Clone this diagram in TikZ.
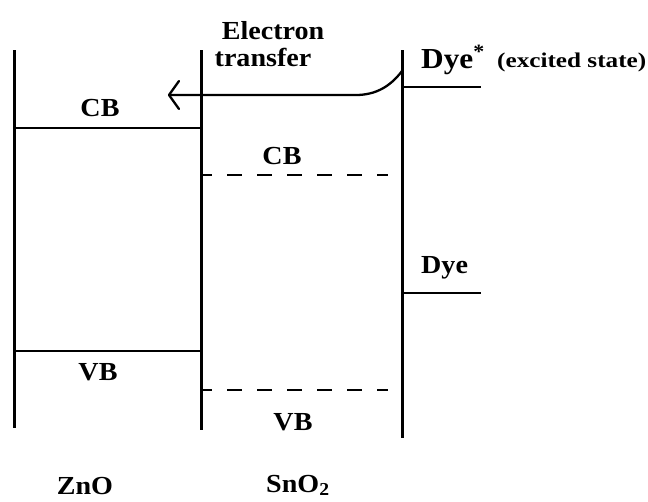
\documentclass[tikz,border=0pt]{standalone}
\usepackage{fontspec}
\setmainfont{Liberation Serif}[FakeStretch=1.08]
\newfontfamily\widefont{Liberation Serif}[FakeStretch=1.2]
\begin{document}
\begin{tikzpicture}[x=1pt,y=-1pt,
  wall/.style={line width=3pt},
  lev/.style={line width=2.3pt},
  dlev/.style={line width=2.3pt, dash pattern=on 15pt off 15pt, dash phase=4pt},
  lbl/.style={font=\bfseries\fontsize{26}{28}\selectfont, inner sep=0pt},
  small/.style={font=\widefont\bfseries\fontsize{21}{23}\selectfont, inner sep=0pt}]
\useasboundingbox (0,0) rectangle (648,501);
% vertical walls
\coordinate (L1) at (14,50);  \coordinate (L2) at (14,428);
\coordinate (M1) at (201,50); \coordinate (M2) at (201,430);
\coordinate (R1) at (402,50); \coordinate (R2) at (402,438);
\draw[wall] (L1) -- (L2);
\draw[wall] (M1) -- (M2);
\draw[wall] (R1) -- (R2);
% levels
\coordinate (zc1) at (14,128); \coordinate (zc2) at (201,128);
\coordinate (zv1) at (14,351); \coordinate (zv2) at (201,351);
\coordinate (sc1) at (201,175); \coordinate (sc2) at (388,175);
\coordinate (sv1) at (201,390); \coordinate (sv2) at (388,390);
\coordinate (de1) at (402,87); \coordinate (de2) at (481,87);
\coordinate (dg1) at (402,293); \coordinate (dg2) at (481,293);
\draw[lev] (zc1) -- (zc2);
\draw[lev] (zv1) -- (zv2);
\draw[dlev] (sc1) -- (sc2);
\draw[dlev] (sv1) -- (sv2);
\draw[lev] (de1) -- (de2);
\draw[lev] (dg1) -- (dg2);
% electron transfer arrow
\coordinate (as) at (402,71);
\coordinate (ab) at (356,95);
\coordinate (at) at (169,95);
\coordinate (w1) at (179,81);
\coordinate (w2) at (179,109);
\draw[lev] (as) .. controls (390,87) and (375,95) .. (ab) -- (at);
\draw[lev, line join=round, line cap=round] (w1) -- (at) -- (w2);
% labels
\node[lbl, anchor=base] (et1) at (273,39) {Electron};
\node[lbl, anchor=base] (et2) at (263,66) {transfer};
\node[lbl, anchor=base west, font=\bfseries\fontsize{29}{31}\selectfont] (dyes) at (421,68) {Dye\textsuperscript{*}};
\node[small, anchor=base west] (exc) at (497,67) {(excited state)};
\node[lbl, anchor=base] (zcb) at (100,116) {CB};
\node[lbl, anchor=base] (scb) at (282,164) {CB};
\node[lbl, anchor=base west] (dye) at (421,273) {Dye};
\node[lbl, anchor=base] (zvb) at (98,380) {VB};
\node[lbl, anchor=base] (svb) at (293,430) {VB};
\node[lbl, anchor=base] (zno) at (85,494) {ZnO};
\node[lbl, anchor=base west] (sno) at (266,492) {SnO\textsubscript{2}};
\end{tikzpicture}
\end{document}
